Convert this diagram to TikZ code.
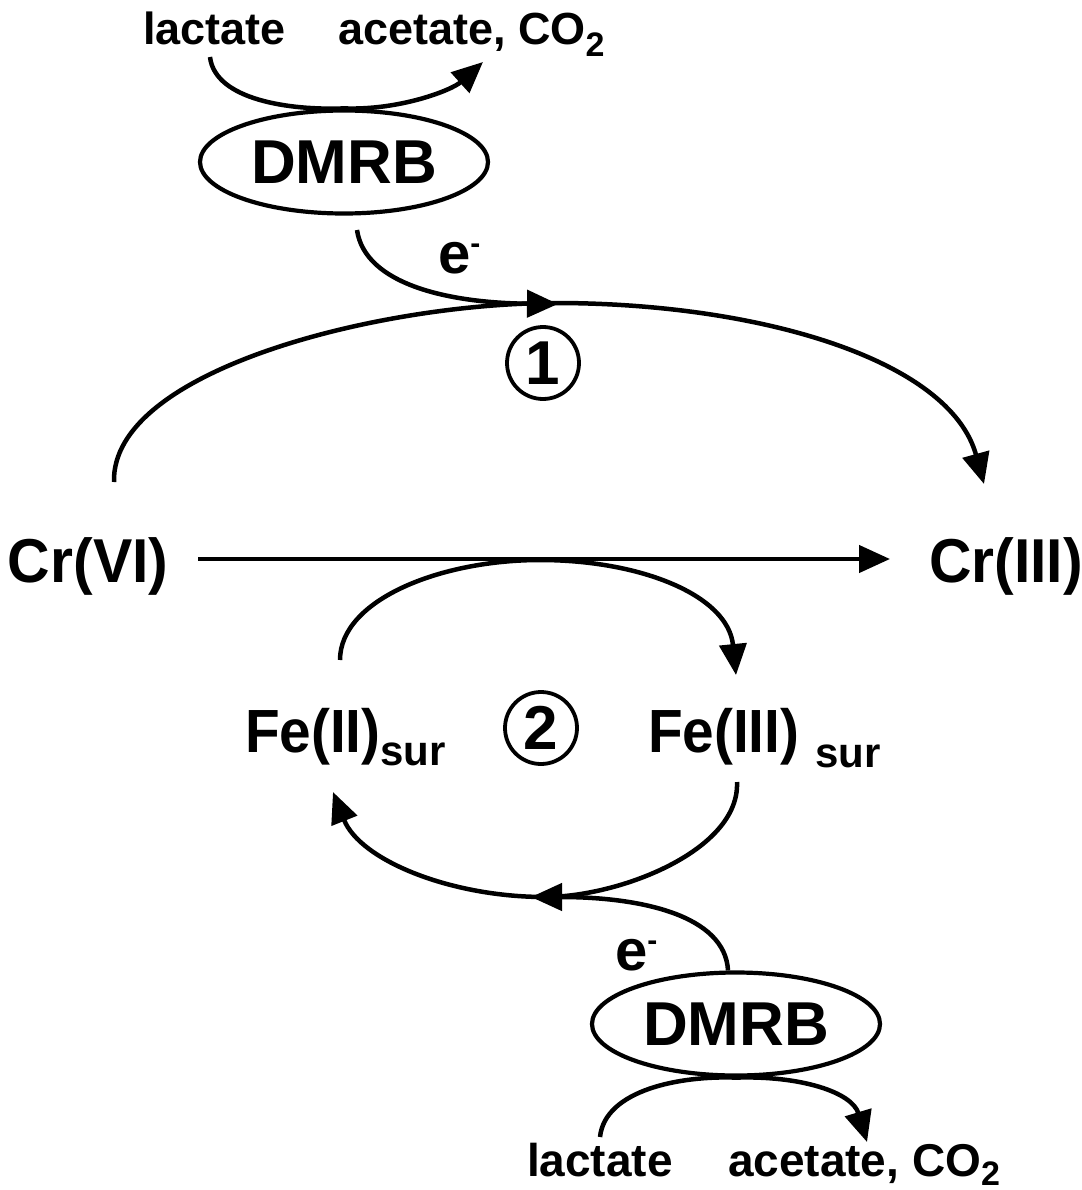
\documentclass[tikz,border=0pt]{standalone}
\usepackage{fontspec}
\setmainfont{Liberation Sans}
\usetikzlibrary{arrows.meta,shapes.geometric}
\newcommand{\fsz}[1]{\fontsize{#1}{#1}\selectfont}
\tikzset{
  lbl/.style={inner sep=0pt, outer sep=0pt, font=\bfseries},
  flow/.style={line width=4.5pt, -{Triangle[length=31pt,width=27pt]}},
  bug/.style={ellipse, draw, line width=4.2pt, minimum width=288pt, minimum height=103pt, inner sep=0pt, font=\bfseries\fsz{62}},
  num/.style={circle, draw, line width=3.8pt, minimum size=72pt, inner sep=0pt, font=\bfseries\fsz{62}},
}
\begin{document}
\begin{tikzpicture}[x=1pt,y=-1pt]
\useasboundingbox (0,0) rectangle (1081,1190);
% top
\node[lbl, anchor=base west] (lac1) at (143,45) {\fsz{45}lactate};
\node[lbl, anchor=base west] (ace1) at (338,45) {\fsz{45}acetate, CO\raisebox{-12pt}{\fsz{34}2}};
\node[bug] (dmrb1) at (344,162) {DMRB};
\node[lbl, anchor=base west] (e1) at (438,273) {\fsz{58}e\raisebox{20pt}{\fsz{30}-}};
\node[num] (c1) at (543,363) {1};
% middle
\node[lbl, anchor=base west] (crvi) at (8,582) {\scalebox{0.95}[1]{\fsz{62}Cr(VI)}};
\node[lbl, anchor=base west] (criii) at (929,582) {\scalebox{0.95}[1]{\fsz{62}Cr(III)}};
\node[lbl, anchor=base west] (fe2) at (245,752) {\scalebox{0.93}[1]{\fsz{61}Fe(II)}\raisebox{-13pt}{\fsz{42}sur}};
\node[num] (c2) at (541,728) {2};
\node[lbl, anchor=base west] (fe3) at (648,752) {\scalebox{0.93}[1]{\fsz{61}Fe(III)}\hspace{16pt}\raisebox{-15pt}{\fsz{42}sur}};
% bottom
\node[lbl, anchor=base west] (e2) at (615,970) {\fsz{58}e\raisebox{20pt}{\fsz{30}-}};
\node[bug] (dmrb2) at (736,1024) {DMRB};
\node[lbl, anchor=base west] (lac2) at (527,1176) {\fsz{46}lactate};
\node[lbl, anchor=base west] (ace2) at (728,1176) {\fsz{46}acetate, CO\raisebox{-9pt}{\fsz{34}2}};
% connector ends
\coordinate (lac1s) at (210,57);
\coordinate (ace1e) at (483,62);
\coordinate (e1s) at (357,230);
\coordinate (e1e) at (558,304);
\coordinate (crvia) at (114,482);
\coordinate (criiia) at (984,484);
\coordinate (h1) at (198,559);
\coordinate (h2) at (890,559);
\coordinate (fe2a) at (340,660);
\coordinate (fe3a) at (736,675);
\coordinate (fe3b) at (737,782);
\coordinate (fe2b) at (333,792);
\coordinate (e2e) at (531,897);
\coordinate (lac2s) at (600,1137);
\coordinate (ace2e) at (867,1142);
% connectors
\draw[flow] (lac1s) .. controls (215,100) and (290,110.5) .. (dmrb1.north)
  .. controls (400,110.5) and (452,90) .. (ace1e);
\draw[flow] (crvia) .. controls (111,370) and (380,303) .. (555,303)
  .. controls (760,303) and (950,360) .. (criiia);
\draw[flow] (e1s) .. controls (365,285) and (450,303) .. (e1e);
\draw[flow] (h1) -- (h2);
\draw[flow] (fe2a) .. controls (340,600) and (440,560) .. (540,560)
  .. controls (640,560) and (728,595) .. (fe3a);
\draw[flow] (fe3b) .. controls (740,850) and (620,897) .. (545,897)
  .. controls (450,897) and (360,860) .. (fe2b);
\draw[flow] ([xshift=-8pt]dmrb2.north) .. controls (725,915) and (640,897) .. (e2e);
\draw[flow] (lac2s) .. controls (605,1090) and (680,1075.5) .. (dmrb2.south)
  .. controls (800,1075.5) and (852,1092) .. (ace2e);
\end{tikzpicture}
\end{document}
